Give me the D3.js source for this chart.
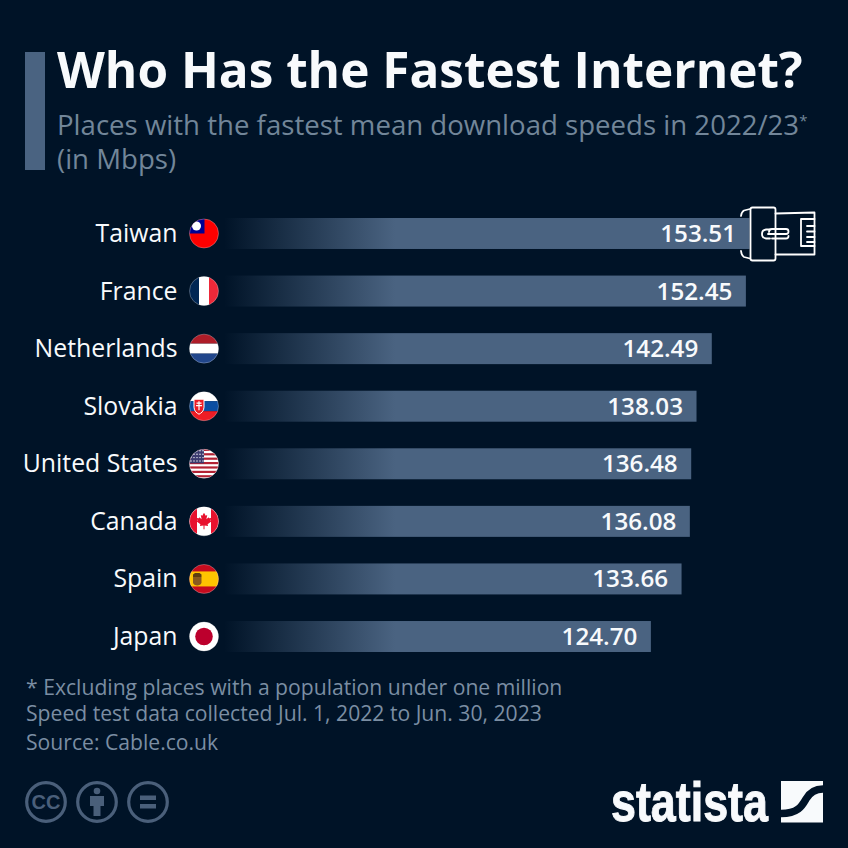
<!DOCTYPE html>
<html><head><meta charset="utf-8">
<script src="https://cdn.jsdelivr.net/npm/d3@7/dist/d3.min.js"></script>
<style>html,body{margin:0;padding:0;background:#001327}svg{display:block}text{font-family:"Open Sans",sans-serif}</style>
</head><body><div id="c"></div>
<script>
const places = ["Taiwan","France","Netherlands","Slovakia","United States","Canada","Spain","Japan"];
const speeds = [153.51,152.45,142.49,138.03,136.48,136.08,133.66,124.70];
const speedLabels = ["153.51","152.45","142.49","138.03","136.48","136.08","133.66","124.70"];
const title = "Who Has the Fastest Internet?";
const subtitle = ["Places with the fastest mean download speeds in 2022/23","(in Mbps)"];
const notes = ["* Excluding places with a population under one million","Speed test data collected Jul. 1, 2022 to Jun. 30, 2023"];
const source = "Source: Cable.co.uk";

const W=848,H=848,BG="#001327",BAR="#4a6381";
const svg=d3.select("#c").append("svg").attr("width",W).attr("height",H);
svg.append("rect").attr("width",W).attr("height",H).attr("fill",BG);
const defs=svg.append("defs");
const g=defs.append("linearGradient").attr("id","fade").attr("gradientUnits","userSpaceOnUse").attr("x1",224).attr("x2",395).attr("y1",0).attr("y2",0);
g.append("stop").attr("offset",0).attr("stop-color",BG);
g.append("stop").attr("offset",1).attr("stop-color",BAR);

// header
svg.append("rect").attr("x",25).attr("y",52).attr("width",20).attr("height",118).attr("fill",BAR);
svg.append("text").attr("x",57).attr("y",88).attr("fill","#f8fafc").attr("font-size",49.5).attr("font-weight",700).text(title);
const st=svg.append("text").attr("x",57).attr("y",135).attr("fill","#728699").attr("font-size",27.6);
st.append("tspan").text(subtitle[0]);
st.append("tspan").attr("font-size",15).attr("dy",-9).text("*");
svg.append("text").attr("x",57).attr("y",169).attr("fill","#728699").attr("font-size",27.6).text(subtitle[1]);

// scales
const x=d3.scaleLinear().domain([0,153.51]).range([224,749.5]);
const y=d3.scaleBand().domain(places).range([218,652]).paddingInner(0.462).paddingOuter(0);

const rows=svg.append("g").selectAll("g").data(places).join("g");
rows.append("rect").attr("x",x(0)).attr("y",d=>y(d)).attr("height",y.bandwidth())
  .attr("width",(d,i)=>x(speeds[i])-x(0)).attr("fill","url(#fade)");
rows.append("text").attr("x",177.5).attr("y",d=>y(d)+y.bandwidth()/2+8.5).attr("text-anchor","end")
  .attr("fill","#f8fafc").attr("font-size",24.8).text(d=>d);
rows.append("text").attr("x",(d,i)=>x(speeds[i])-13.5).attr("y",d=>y(d)+y.bandwidth()/2+8.5).attr("text-anchor","end")
  .attr("fill","#f8fafc").attr("font-size",24.2).attr("font-weight",600).text((d,i)=>speedLabels[i]);

// flags
const R=14.5;
defs.append("clipPath").attr("id","fc").append("circle").attr("r",R);
const rect=(s,x0,y0,w,h,f)=>s.append("rect").attr("x",x0).attr("y",y0).attr("width",w).attr("height",h).attr("fill",f);
const painters={
 "Taiwan":s=>{rect(s,-15,-15,30,30,"#fe0000");rect(s,-15,-15,15.5,15,"#000095");s.append("circle").attr("cx",-7.5).attr("cy",-7.5).attr("r",4.5).attr("fill","#fff");},
 "France":s=>{rect(s,-15,-15,10,30,"#002654");rect(s,-5,-15,10,30,"#fff");rect(s,5,-15,10,30,"#ed2939");},
 "Netherlands":s=>{rect(s,-15,-15,30,10,"#ae1c28");rect(s,-15,-5,30,10,"#fff");rect(s,-15,5,30,10,"#21468b");},
 "Slovakia":s=>{rect(s,-15,-15,30,10,"#fff");rect(s,-15,-5,30,10,"#0b4ea2");rect(s,-15,5,30,10,"#ee1c25");
   s.append("path").attr("d","M-10-7H0V1C0 5-3 7-5 8-7 7-10 5-10 1Z").attr("fill","#ee1c25").attr("stroke","#fff").attr("stroke-width",1);
   s.append("path").attr("d","M-5-5V4M-7.5-3H-2.5M-8-.5H-2").attr("stroke","#fff").attr("stroke-width",1.2).attr("fill","none");},
 "United States":s=>{rect(s,-15,-15,30,30,"#fff");
   d3.range(0,7).forEach(i=>rect(s,-15,-15+i*4.4,30,2.2,"#b22234"));
   rect(s,-15,-15,15,14.5,"#3c3b6e");
   d3.range(0,4).forEach(r=>d3.range(0,5).forEach(c=>s.append("circle").attr("cx",-13+c*3).attr("cy",-13+r*3.4).attr("r",.7).attr("fill","#fff")));},
 "Canada":s=>{rect(s,-15,-15,30,30,"#fff");rect(s,-15,-15,8,30,"#e8112d");rect(s,7,-15,8,30,"#e8112d");
   s.append("path").attr("d","M0-8.5L-1.7-5.5-3.2-6.3-2.4-2-4.6-4.2-5-3-7.4-3.4-6.5-.8-7.6-.2-3.6 3-4.1 4.6-.5 4.2-.5 8H.5L.5 4.2 4.1 4.6 3.6 3 7.6-.2 6.5-.8 7.4-3.4 5-3 4.6-4.2 2.4-2 3.2-6.3 1.7-5.5Z").attr("fill","#e8112d");},
 "Spain":s=>{rect(s,-15,-15,30,30,"#c60b1e");rect(s,-15,-7.5,30,15,"#ffc400");
   s.append("path").attr("d","M-11-2H-2.5V3.5C-2.5 5.5-5 6.5-6.7 6.5-8.5 6.5-11 5.5-11 3.5Z").attr("fill","#8a5a1e");
   s.append("path").attr("d","M-11-4.5L-9-6H-4.5L-2.5-4.5V-2H-11Z").attr("fill","#5e3d10");},
 "Japan":s=>{rect(s,-15,-15,30,30,"#fff");s.append("circle").attr("r",8.8).attr("fill","#bc002d");}
};
const flags=rows.append("g").attr("transform",d=>`translate(204,${y(d)+y.bandwidth()/2})`);
flags.append("g").attr("clip-path","url(#fc)").each(function(d){painters[d](d3.select(this));});
flags.append("circle").attr("r",R).attr("fill","none").attr("stroke","#fff").attr("stroke-opacity",.35).attr("stroke-width",.8);

// plug icon
const plug=svg.append("g").attr("fill","none").attr("stroke","#fff").attr("stroke-width",1.8).attr("stroke-linejoin","round").attr("stroke-linecap","round");
plug.append("rect").attr("x",750.5).attr("y",207.5).attr("width",25).attr("height",53).attr("rx",2).attr("fill",BG);
plug.append("path").attr("d","M750 209L744 210.5Q741.5 212 741 216M750 258.5L744 257Q741.5 255.5 741 251");
plug.append("path").attr("d","M775.5 213.5L814.5 212.5V254.5L775.5 254.5");
plug.append("path").attr("d","M814.5 219H801V246H814.5M814.5 226H807M814.5 231.5H807M814.5 237H807M814.5 242H807");
plug.append("path").attr("d","M770 229.5H766Q762 230 762 234T766 238.5H770");
plug.append("path").attr("d","M768 234H786Q788.5 234 788.5 231.5T786 229H772Q769 229 769 232");
plug.append("path").attr("d","M772 238.5H786Q788.5 238.5 788.5 236");

// footer
const ft=svg.append("g").attr("fill","#7b8ea3").attr("font-size",21.15);
ft.selectAll("text.n").data(notes).join("text").attr("class","n").attr("x",26).attr("y",(d,i)=>695+i*25.5).text(d=>d);
ft.append("text").attr("x",26).attr("y",750).text(source);

// licence icons
const lic=svg.append("g").attr("fill","none").attr("stroke","#4a5f7a").attr("stroke-width",3.2);
[46,97,148].forEach(cx=>lic.append("circle").attr("cx",cx).attr("cy",802).attr("r",19.3));
svg.append("text").attr("x",46).attr("y",809).attr("text-anchor","middle").attr("fill","#4a5f7a").attr("font-size",20).attr("font-weight",700).style("font-family","Liberation Sans").text("CC");
const m=svg.append("g").attr("fill","#4a5f7a");
m.append("circle").attr("cx",97).attr("cy",791).attr("r",3.3);
m.append("path").attr("d","M90 796H104V806H100.5V816H93.5V806H90Z");
m.append("rect").attr("x",140).attr("y",795.5).attr("width",16).attr("height",4.5);
m.append("rect").attr("x",140).attr("y",804).attr("width",16).attr("height",4.5);

// logo
svg.append("text").attr("x",611).attr("y",821).attr("fill","#f8fafc").attr("stroke","#f8fafc").attr("stroke-width",1).attr("font-size",56).attr("font-weight",700)
  .style("font-family","'Liberation Sans Narrow','Liberation Sans'").attr("textLength",157).attr("lengthAdjust","spacingAndGlyphs").text("statista");
svg.append("rect").attr("x",781).attr("y",781).attr("width",42).attr("height",41.5).attr("fill","#f8fafc");
svg.append("path").attr("d","M781 813.5C798 813.5 802 806 806 799C810 792 815 789 823 789").attr("fill","none").attr("stroke",BG).attr("stroke-width",7.5);
</script></body></html>
